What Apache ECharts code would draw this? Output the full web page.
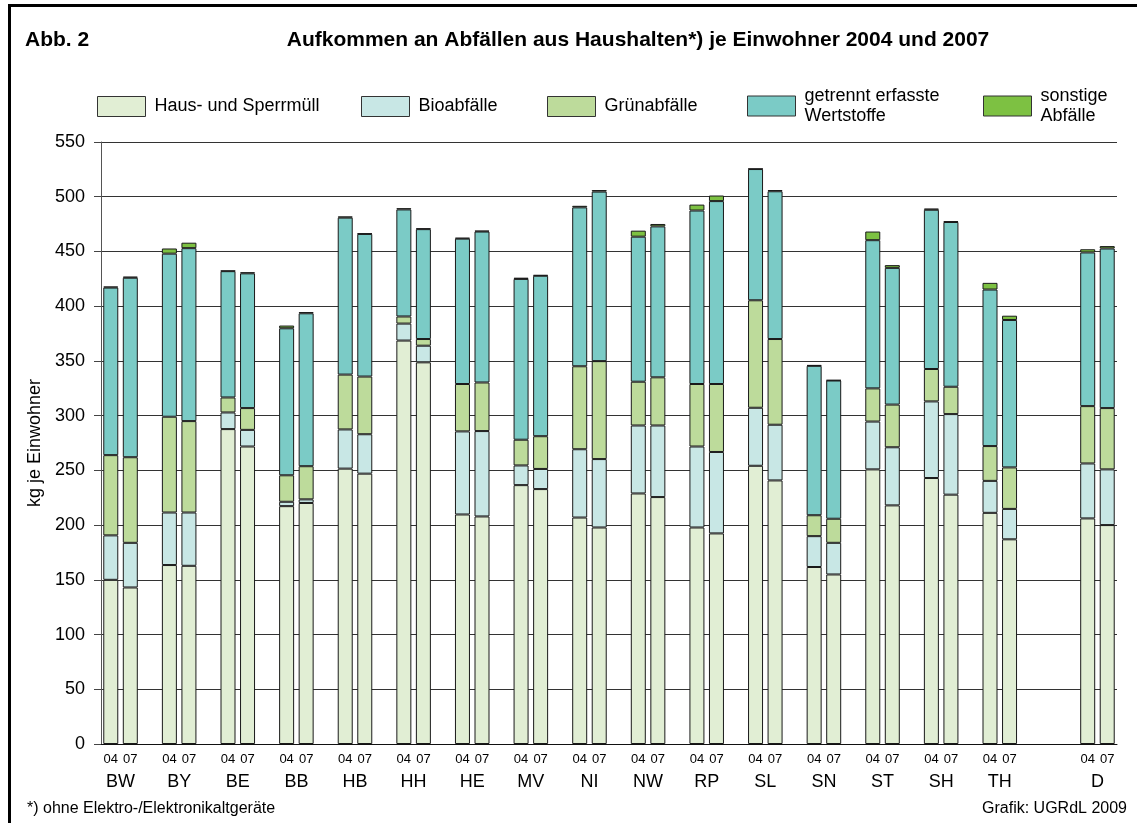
<!DOCTYPE html>
<html lang="de">
<head>
<meta charset="UTF-8">
<title>Aufkommen an Abfällen aus Haushalten je Einwohner 2004 und 2007</title>
<script src="https://cdn.jsdelivr.net/npm/echarts@6/dist/echarts.min.js"></script>
<style>
  html, body { margin: 0; padding: 0; background: #fff; }
  #chart { width: 1137px; height: 823px; }
</style>
</head>
<body>
<div id="chart"></div>
<script>
// Länder (Gruppen) und Jahre
var groups = ['BW', 'BY', 'BE', 'BB', 'HB', 'HH', 'HE', 'MV', 'NI', 'NW', 'RP', 'SL', 'SN', 'ST', 'SH', 'TH', 'D'];
var years = ['04', '07'];
var yTicks = [0, 50, 100, 150, 200, 250, 300, 350, 400, 450, 500, 550];

// kg je Einwohner, jeweils 2004, 2007 pro Land
var haus = [150, 143, 163.5, 162.8, 287.7, 271.8, 217.3, 220.2, 251.6, 247, 368.6, 348.7, 209.7, 207.9,
  236.5, 232.9, 206.9, 197.8, 228.9, 225.6, 197.8, 192.4, 254.2, 240.8, 161.7, 154.9, 250.9, 218,
  243, 227.8, 211.2, 187, 206.1, 200];
var bio = [40.6, 40.8, 48, 48.7, 15.2, 15.2, 4, 3.3, 35.8, 36, 15.5, 15.2, 75.9, 78,
  18, 18.4, 62.4, 62.5, 62.1, 65.4, 74, 74.4, 53, 50.9, 28.2, 28.9, 43.7, 53.1,
  70, 73.6, 29.2, 27.8, 50.2, 50.9];
var gruen = [73.3, 78.2, 87.5, 83.5, 13.7, 19.9, 24.2, 30.3, 50.1, 52.7, 6.5, 6.1, 43.3, 44.4,
  23.5, 29.9, 75.8, 89.5, 40, 44, 57.1, 62.1, 98.2, 78.3, 19.1, 22, 30.3, 39,
  29.6, 25, 31.8, 37.9, 52.4, 56];
var wert = [153.1, 164, 149, 158, 115.4, 123.1, 134.3, 139.7, 143.4, 130.3, 97.8, 100.4, 132.8, 137.9,
  146.9, 146.6, 145.2, 154.9, 132.5, 137.9, 158.5, 167.1, 119.9, 135, 136.5, 126.3, 135.4, 124.9,
  145.5, 150.5, 143, 134.7, 140.4, 145.8];
var sonst = [1, 1, 4.7, 5, 0.5, 1, 2.5, 1.1, 1.1, 0.5, 1.1, 0.7, 0.8, 0.8,
  1.1, 0.7, 1.4, 1.4, 5.5, 2.2, 5.4, 5.1, 0.3, 1.1, 0.7, 0.4, 7.9, 2.5,
  1.1, 0.7, 6.1, 3.9, 2.9, 2.2];

// Plätze auf der x-Achse: je Land 04, 07, Lücke; vor D eine größere Lücke
var slotCount = 52;
function slotOf(g) { return g < 16 ? g * 3 : 50; }

var slotLabels = [];
for (var i = 0; i < slotCount; i++) slotLabels.push('');
var groupAt = {};
groups.forEach(function (g, gi) {
  var s = slotOf(gi);
  slotLabels[s] = years[0];
  slotLabels[s + 1] = years[1];
  groupAt[(s + 0.5).toFixed(1)] = g;
});

function toSlots(arr) {
  var out = [];
  for (var i = 0; i < slotCount; i++) out.push('-');
  groups.forEach(function (g, gi) {
    var s = slotOf(gi);
    out[s] = arr[gi * 2];
    out[s + 1] = arr[gi * 2 + 1];
  });
  return out;
}

var font = "'Liberation Sans', Arial, sans-serif";
var names = ['Haus- und Sperrmüll', 'Bioabfälle', 'Grünabfälle', 'getrennt erfasste\nWertstoffe', 'sonstige\nAbfälle'];
var colors = ['#e1eed4', '#c8e7e5', '#bddb9b', '#7bcbc6', '#7dc142'];
var values = [haus, bio, gruen, wert, sonst];
var legendLeft = [97, 361, 547, 747, 983];

var chart = echarts.init(document.getElementById('chart'), null, { renderer: 'canvas' });

var option = {
  backgroundColor: '#fff',
  animation: false,
  textStyle: { fontFamily: font },
  title: [
    { text: 'Abb. 2', left: 20, top: 25, textStyle: { fontFamily: font, fontSize: 21, fontWeight: 'bold', color: '#000' } },
    { text: 'Aufkommen an Abfällen aus Haushalten*) je Einwohner 2004 und 2007', left: 633, top: 25, textAlign: 'center',
      textStyle: { fontFamily: font, fontSize: 21, fontWeight: 'bold', color: '#000' } },
    { text: '*) ohne Elektro-/Elektronikaltgeräte', left: 22, top: 796, textStyle: { fontFamily: font, fontSize: 16, fontWeight: 'normal', color: '#000' } },
    { text: 'Grafik: UGRdL 2009', right: 5, top: 796, textStyle: { fontFamily: font, fontSize: 16, fontWeight: 'normal', color: '#000' } }
  ],
  legend: names.map(function (n, i) {
    var twoLines = n.indexOf('\n') >= 0;
    return {
      data: [n],
      left: legendLeft[i],
      top: twoLines ? 86 : 96,
      padding: 0,
      itemWidth: 48,
      itemHeight: 20,
      icon: 'rect',
      selectedMode: false,
      itemStyle: { borderColor: '#333', borderWidth: 1 },
      textStyle: { fontFamily: font, fontSize: 18, color: '#000', lineHeight: 20, padding: [0, 0, 0, 4] }
    };
  }),
  grid: { left: 101, top: 142, width: 1016, height: 602, containLabel: false },
  xAxis: [
    {
      type: 'category',
      data: slotLabels,
      boundaryGap: true,
      axisLine: { lineStyle: { color: '#111', width: 1 } },
      axisTick: { show: false },
      axisLabel: { interval: 0, margin: 9, fontSize: 13, color: '#000', fontFamily: font },
      splitLine: { show: false }
    },
    {
      type: 'value',
      min: -0.5,
      max: slotCount - 0.5,
      interval: 0.5,
      position: 'bottom',
      axisLine: { show: false },
      axisTick: { show: false },
      splitLine: { show: false },
      axisLabel: {
        margin: 29, fontSize: 18, color: '#000', fontFamily: font,
        showMinLabel: true, showMaxLabel: true,
        formatter: function (v) { return groupAt[v.toFixed(1)] || ''; }
      }
    }
  ],
  yAxis: {
    type: 'value',
    min: 0,
    max: 550,
    interval: 50,
    name: 'kg je Einwohner',
    nameLocation: 'middle',
    nameGap: 55,
    nameTextStyle: { fontFamily: font, fontSize: 18, color: '#000' },
    axisLine: { show: true, onZero: false, lineStyle: { color: '#555', width: 1 } },
    axisTick: { show: true, inside: false, length: 7, lineStyle: { color: '#444' } },
    axisLabel: {
      margin: 16, fontSize: 18, color: '#000', fontFamily: font,
      formatter: function (v) { return yTicks.indexOf(v) >= 0 ? String(v) : ''; }
    },
    splitLine: { show: true, lineStyle: { color: '#333', width: 1 } }
  },
  series: names.map(function (n, i) {
    return {
      name: n,
      type: 'bar',
      stack: 'total',
      xAxisIndex: 0,
      barWidth: 15,
      data: toSlots(values[i]),
      itemStyle: { color: colors[i], borderColor: '#1a1a1a', borderWidth: 1 },
      emphasis: { disabled: true }
    };
  }),
  graphic: [
    { type: 'rect', shape: { x: 8, y: 4, width: 3, height: 819 }, style: { fill: '#000' }, silent: true },
    { type: 'rect', shape: { x: 8, y: 4, width: 1129, height: 3 }, style: { fill: '#000' }, silent: true }
  ]
};

chart.setOption(option);
</script>
</body>
</html>
